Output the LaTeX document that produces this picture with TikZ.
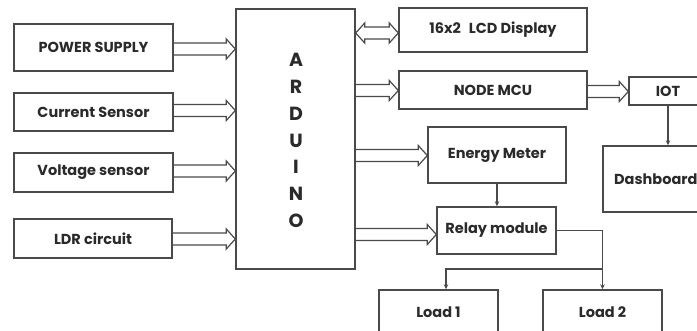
\documentclass[tikz,border=0pt]{standalone}
\usepackage{fontspec}
\setmainfont{Poppins}
\usetikzlibrary{calc,arrows.meta}
\definecolor{ln}{HTML}{4A4A4A}
\definecolor{tx}{HTML}{2A2A2A}
\tikzset{
  box/.style={draw=ln, line width=1.4pt, fill=white, text=tx, font=\fontsize{14.5}{17}\selectfont\bfseries, inner sep=0pt},
  conn/.style={draw=ln, line width=1.2pt, line join=miter},
  tarrow/.style={draw=ln, line width=1.3pt, -{Stealth[length=5pt,width=4.5pt]}},
}
\newcommand\hollowarrow[3]{%
  \coordinate (s) at (#1.east |- 0,#3);
  \coordinate (e) at (#2.west |- 0,#3);
  \draw[conn] ($(s)+(0,-6)$) -- ($(e)+(-9,-6)$) -- ($(e)+(-9,-10)$) -- (e) -- ($(e)+(-9,10)$) -- ($(e)+(-9,6)$) -- ($(s)+(0,6)$);
}
\newcommand\hollowdouble[3]{%
  \coordinate (s) at (#1.east |- 0,#3);
  \coordinate (e) at (#2.west |- 0,#3);
  \draw[conn] ($(s)+(9,-6)$) -- ($(e)+(-9,-6)$) -- ($(e)+(-9,-10)$) -- (e) -- ($(e)+(-9,10)$) -- ($(e)+(-9,6)$) -- ($(s)+(9,6)$) -- ($(s)+(9,10)$) -- (s) -- ($(s)+(9,-10)$) -- cycle;
}
\begin{document}
\begin{tikzpicture}[x=1pt,y=-1pt]
\useasboundingbox (0,0) rectangle (697,331);
\clip (0,0) rectangle (697,331);
\fill[white] (0,0) rectangle (697,331);
% left boxes
\node[box, minimum width=159, minimum height=47] (ps) at (93.5,47.5) {POWER SUPPLY};
\node[box, minimum width=159, minimum height=38] (cs) at (93.5,112) {Current Sensor};
\node[box, minimum width=159, minimum height=39] (vs) at (93.5,172.5) {Voltage sensor};
\node[box, minimum width=158, minimum height=39] (ldr) at (93,238.5) {LDR circuit};
% arduino
\node[box, minimum width=119, minimum height=260] (ard) at (295.5,139) {};
\node[text=tx, font=\fontsize{19}{26.8}\selectfont\bfseries, align=center, inner sep=0pt] (ardt) at (296,140.5) {A\\R\\D\\U\\I\\N\\O};
% right boxes
\node[box, minimum width=188, minimum height=44] (lcd) at (493,30) {16x2\hspace{8pt}LCD Display};
\node[box, minimum width=188, minimum height=38] (mcu) at (493,90) {NODE MCU};
\node[box, minimum width=78, minimum height=28] (iot) at (668,91) {IOT};
\node[box, minimum width=138, minimum height=56] (em) at (497,155) {Energy Meter};
\node[box, minimum width=103, minimum height=66] (dash) at (654.5,179) {};
\node[text=tx, font=\fontsize{14.5}{17}\selectfont\bfseries, anchor=west, inner sep=0pt] (dasht) at (614,179) {Dashboard};
\node[box, minimum width=119, minimum height=47] (relay) at (496.5,230.5) {Relay module};
\node[box, minimum width=119, minimum height=44] (l1) at (438.5,312) {Load 1};
\node[box, minimum width=119, minimum height=44] (l2) at (602.5,312) {Load 2};
% hollow arrows
\hollowarrow{ps}{ard}{49}
\hollowarrow{cs}{ard}{110.5}
\hollowarrow{vs}{ard}{171}
\hollowarrow{ldr}{ard}{239}
\hollowdouble{ard}{lcd}{33}
\hollowarrow{ard}{mcu}{90.5}
\hollowarrow{mcu}{iot}{91.5}
\hollowarrow{ard}{em}{155.5}
\hollowarrow{ard}{relay}{234.5}
% thin arrows
\draw[tarrow] (iot.south) -- (iot.south |- dash.north);
\draw[tarrow] (em.south) -- (em.south |- relay.north);
\draw[tarrow] (relay.east) -| (l2.north);
\coordinate (j) at (l2.north |- 0,269);
\draw[tarrow] (j) -| (l1.north -| 446,0);
\end{tikzpicture}
\end{document}
